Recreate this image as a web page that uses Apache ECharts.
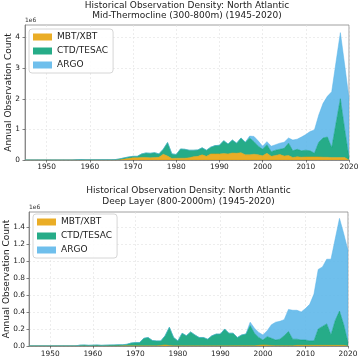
<!DOCTYPE html>
<html><head><meta charset="utf-8">
<script src="https://cdn.jsdelivr.net/npm/echarts@6/dist/echarts.min.js"></script>
<style>html,body{margin:0;padding:0;background:#fff}#c{width:362px;height:360px}</style>
</head><body><div id="c"></div>
<script>
// Years 1945-2020
const years = [1945,1946,1947,1948,1949,1950,1951,1952,1953,1954,1955,1956,1957,1958,1959,1960,1961,1962,1963,1964,1965,1966,1967,1968,1969,1970,1971,1972,1973,1974,1975,1976,1977,1978,1979,1980,1981,1982,1983,1984,1985,1986,1987,1988,1989,1990,1991,1992,1993,1994,1995,1996,1997,1998,1999,2000,2001,2002,2003,2004,2005,2006,2007,2008,2009,2010,2011,2012,2013,2014,2015,2016,2017,2018,2019,2020];

// Mid-Thermocline (300-800m), values in millions (1e6)
const midMBT = [0,0,0,0,0,0,0,0,0,0,0,0,0,0,0,0,0,0,0,0,0,0,
  0.01,0.03,0.05,0.07,0.07,0.08,0.08,0.07,0.08,0.09,
  0.19,0.13,0.05,0.06,0.06,0.06,0.07,0.11,0.12,0.17,
  0.12,0.2,0.2,0.2,0.21,0.2,0.23,0.22,0.24,0.17,
  0.17,0.19,0.17,0.14,0.22,0.12,0.15,0.18,0.13,0.15,
  0.08,0.11,0.09,0.1,0.1,0.1,0.1,0.09,0.09,0.08,
  0.08,0.08,0.08,0];
const midCTD = [0.003,0.003,0.003,0.003,0.003,0.003,0.003,0.003,0.003,0.003,0.003,0.003,
  0.01,0.015,0.01,0.01,0.008,0.01,0.012,0.01,0.01,0.015,
  0.03,0.04,0.05,0.05,0.05,0.12,0.15,0.15,0.16,0.11,
  0.16,0.44,0.15,0.12,0.3,0.29,0.25,0.21,0.21,0.23,
  0.2,0.22,0.27,0.28,0.42,0.32,0.42,0.33,0.48,0.41,
  0.55,0.41,0.28,0.21,0.28,0.15,0.17,0.17,0.25,0.4,
  0.22,0.24,0.21,0.22,0.2,0.12,0.48,0.63,0.66,0.32,
  1.12,1.92,0.92,0.08];
const midARGO = [0,0,0,0,0,0,0,0,0,0,0,0,0,0,0,0,0,0,0,0,0,0,0,0,0,0,
  0,0,0,0,0,0,0,0,0,0,0,0,0,0,0,0,0,0,0,0,0,0,0,0,0,0,
  0.06,0.17,0.17,0.1,0.1,0.18,0.18,0.2,0.2,0.17,
  0.35,0.33,0.45,0.51,0.63,0.76,0.89,1.13,1.33,1.83,
  2.0,2.16,2.1,1.92];

// Deep Layer (800-2000m), values in millions (1e6)
const deepMBT = [0,0,0,0,0,0,0,0,0,0,0,0,0,0,0,0,0,0,0,0,0,0,
  0.002,0.002,0.002,0.002,0.002,0.002,0.002,0.002,0.002,
  0.006,0.012,0.006,
  0.002,0.002,0.002,0.002,0.002,0.002,0.002,0.002,0.002,0.002,0.002,0.002,0.002,0.002,
  0.004,0.004,0.004,0.004,0.004,0.004,
  0.008,0.012,0.01,0.005,
  0.004,0.004,0.004,0.004,0.004,
  0.008,0.008,0.008,0.008,0.008,0.008,0.008,0.008,0.008,0.008,0.008,0.008,
  0];
const deepCTD = [0.002,0.002,0.002,0.002,0.002,0.002,0.002,0.002,0.002,0.002,0.002,0.002,
  0.01,0.012,0.008,0.01,0.012,0.008,0.01,0.012,0.013,0.015,
  0.013,0.018,0.033,0.038,0.038,0.088,0.098,0.063,0.058,
  0.054,0.108,0.214,
  0.098,0.058,0.148,0.118,0.163,0.128,0.098,0.098,0.078,0.118,0.138,0.138,0.198,0.148,
  0.146,0.096,0.126,0.136,0.236,0.146,
  0.092,0.058,0.1,0.085,
  0.066,0.076,0.116,0.166,0.076,
  0.072,0.062,0.062,0.052,0.052,0.192,0.222,0.252,0.122,0.292,0.402,0.242,
  0.04];
const deepARGO = [0,0,0,0,0,0,0,0,0,0,0,0,0,0,0,0,0,0,0,0,0,0,0,0,0,0,
  0,0,0,0,0,0,0,0,0,0,0,0,0,0,0,0,0,0,0,0,0,0,0,0,0,0,
  0.04,0.06,0.06,0.06,0.07,0.16,0.21,0.21,0.19,0.26,
  0.34,0.34,0.33,0.37,0.43,0.55,0.7,0.7,0.76,0.89,
  0.96,1.09,1.07,1.08];

const seriesNames = ['MBT/XBT','CTD/TESAC','ARGO'];
const seriesColors = ['rgba(230,159,0,0.85)','rgba(0,158,115,0.85)','rgba(86,180,233,0.85)'];
const midYTicks = [0,1,2,3,4];
const deepYTicks = [0,0.2,0.4,0.6,0.8,1.0,1.2,1.4];
const titles = ['Historical Observation Density: North Atlantic\nMid-Thermocline (300-800m) (1945-2020)',
                'Historical Observation Density: North Atlantic\nDeep Layer (800-2000m) (1945-2020)'];

const FONT = 'DejaVu Sans';
const every10 = (idx, val) => Number(val) % 10 === 0;

function mkSeries(gi, arrs) {
  return arrs.map((arr, k) => ({
    type: 'line', name: seriesNames[k], xAxisIndex: gi, yAxisIndex: gi,
    stack: 's' + gi, data: arr, showSymbol: false, symbol: 'none',
    color: seriesColors[k],
    lineStyle: { width: 0.6, color: seriesColors[k] },
    areaStyle: { color: seriesColors[k], opacity: 1 },
    emphasis: { disabled: true }, animation: false
  }));
}

function xAx(gi, margin) {
  return {
    gridIndex: gi, type: 'category', boundaryGap: false, data: years.map(String),
    axisLine: { show: true, onZero: false, lineStyle: { color: '#777', width: 0.8 } },
    axisTick: { show: true, length: 2.5, interval: every10, lineStyle: { color: '#333', width: 0.6 } },
    axisLabel: { interval: every10, fontFamily: FONT, fontSize: 7.4, color: '#222', margin: margin },
    splitLine: { show: true, interval: every10, lineStyle: { color: '#e2e2e2', type: [2, 2], width: 0.6 } }
  };
}
function yAx(gi, max, interval, ticks, fmt, gap, margin) {
  return {
    gridIndex: gi, type: 'value', min: 0, max: max, interval: interval,
    name: 'Annual Observation Count', nameLocation: 'middle', nameGap: gap, nameMoveOverlap: false,
    nameTextStyle: { fontFamily: FONT, fontSize: 9, color: '#222' },
    axisLine: { show: true, lineStyle: { color: '#777', width: 0.8 } },
    axisTick: { show: true, length: 2.5, customValues: ticks, lineStyle: { color: '#333', width: 0.6 } },
    axisLabel: { customValues: ticks, formatter: fmt, fontFamily: FONT, fontSize: 7.4, color: '#222', margin: margin },
    splitLine: { show: true, lineStyle: { color: '#e2e2e2', type: [2, 2], width: 0.6 } }
  };
}

const legendBase = {
  orient: 'vertical', itemWidth: 19, itemHeight: 7, itemGap: 4, icon: 'rect',
  backgroundColor: 'rgba(255,255,255,0.85)', borderColor: '#ccc', borderWidth: 0.8, borderRadius: 3,
  padding: [3, 5, 3, 4],
  textStyle: { fontFamily: FONT, fontSize: 9, color: '#222', lineHeight: 10 },
  data: seriesNames, selectedMode: false
};

const gridBase = { show: true, borderColor: '#888', borderWidth: 0.8, backgroundColor: '#fff',
                   containLabel: false, outerBoundsMode: 'none' };

const titleStyle = { fontFamily: FONT, fontSize: 9, fontWeight: 'normal', color: '#222', lineHeight: 10.5 };

const chart = echarts.init(document.getElementById('c'), null, { renderer: 'canvas' });
chart.setOption({
  animation: false,
  title: [
    { text: titles[0], left: 187, top: 0, textAlign: 'center', padding: 0, textStyle: titleStyle },
    { text: titles[1], left: 188.5, top: 185.5, textAlign: 'center', padding: 0, textStyle: titleStyle }
  ],
  grid: [
    Object.assign({}, gridBase, { left: 25, top: 25, width: 324, height: 135 }),
    Object.assign({}, gridBase, { left: 29, top: 212, width: 319, height: 134 })
  ],
  xAxis: [xAx(0, 3.5), xAx(1, 5)],
  yAxis: [
    yAx(0, 4.41, 1, midYTicks, v => (Math.abs(v - Math.round(v)) < 1e-6 && v <= 4) ? String(Math.round(v)) : '', 12, 5),
    yAx(1, 1.575, 0.2, deepYTicks, v => v <= 1.41 ? v.toFixed(1) : '', 18, 4)
  ],
  legend: [
    Object.assign({}, legendBase, { left: 29, top: 29 }),
    Object.assign({}, legendBase, { left: 33, top: 214 })
  ],
  graphic: [
    { type: 'text', left: 25, top: 17, style: { text: '1e6', fontFamily: FONT, fontSize: 6, fill: '#333' } },
    { type: 'text', left: 29, top: 204, style: { text: '1e6', fontFamily: FONT, fontSize: 6, fill: '#333' } }
  ],
  series: mkSeries(0, [midMBT, midCTD, midARGO]).concat(mkSeries(1, [deepMBT, deepCTD, deepARGO]))
});
</script>
</body></html>
